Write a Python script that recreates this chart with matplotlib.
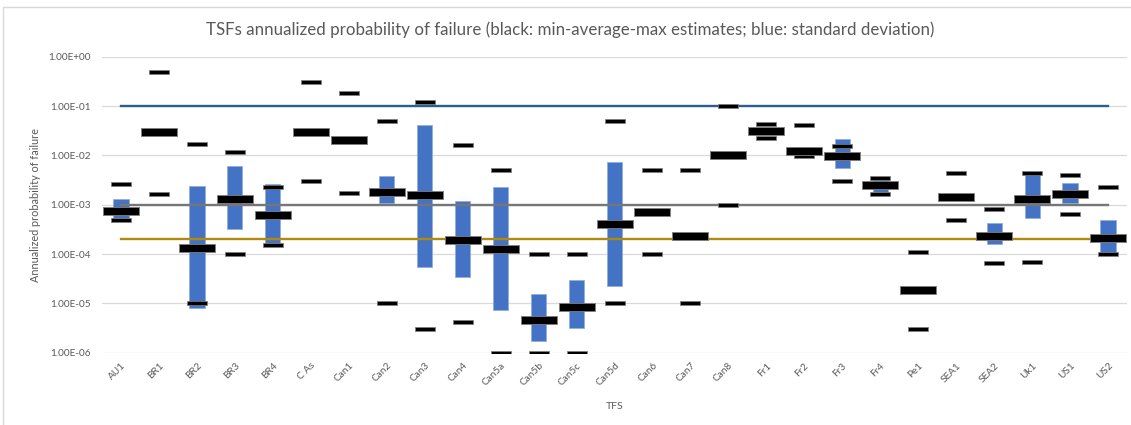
import numpy as np
import matplotlib.pyplot as plt
from matplotlib.patches import Rectangle
from matplotlib.ticker import FixedLocator, FuncFormatter

plt.rcParams['font.family'] = ['Lato', 'DejaVu Sans']

tfs = ['AU1', 'BR1', 'BR2', 'BR3', 'BR4', 'C As', 'Can1', 'Can2', 'Can3', 'Can4',
       'Can5a', 'Can5b', 'Can5c', 'Can5d', 'Can6', 'Can7', 'Can8', 'Fr1', 'Fr2',
       'Fr3', 'Fr4', 'Pe1', 'SEA1', 'SEA2', 'Uk1', 'US1', 'US2']

# min / average / max estimates
p_min = [5.0e-4, 1.64e-3, 1.0e-5, 1.0e-4, 1.5e-4, 3.0e-3, 1.7e-3, 1.0e-5, 3.0e-6, 4.1e-6,
         1.0e-6, 1.0e-6, 1.0e-6, 1.0e-5, 1.0e-4, 1.0e-5, 1.0e-3, 2.2e-2, 9.5e-3,
         3.0e-3, 1.67e-3, 3.0e-6, 4.8e-4, 6.7e-5, 6.9e-5, 6.6e-4, 1.0e-4]
p_avg = [7.6e-4, 3.0e-2, 1.34e-4, 1.3e-3, 6.2e-4, 3.0e-2, 2.05e-2, 1.8e-3, 1.55e-3, 1.92e-4,
         1.26e-4, 4.6e-6, 8.6e-6, 4.06e-4, 7.1e-4, 2.3e-4, 1.0e-2, 3.16e-2, 1.24e-2,
         9.7e-3, 2.54e-3, 1.83e-5, 1.45e-3, 2.35e-4, 1.32e-3, 1.64e-3, 2.11e-4]
p_max = [2.67e-3, 0.5, 1.7e-2, 1.19e-2, 2.3e-3, 0.3, 0.18, 5.0e-2, 0.12, 1.6e-2,
         5.0e-3, 1.0e-4, 1.0e-4, 5.0e-2, 5.0e-3, 5.0e-3, 0.1, 4.3e-2, 4.2e-2,
         1.55e-2, 3.53e-3, 1.11e-4, 4.3e-3, 8.2e-4, 4.45e-3, 4.06e-3, 2.32e-3]

# standard deviation band (lower, upper); None where no band is drawn
sd_low = [5.5e-4, None, 7.9e-6, 3.2e-4, 1.65e-4, None, None, 1.06e-3, 5.4e-5, 3.4e-5,
          7.3e-6, 1.7e-6, 3.2e-6, 2.25e-5, None, None, None, None, 1.05e-2,
          5.6e-3, 1.85e-3, None, None, 1.6e-4, 5.3e-4, 1.1e-3, 1.1e-4]
sd_high = [1.32e-3, None, 2.35e-3, 6.1e-3, 2.6e-3, None, None, 3.8e-3, 4.2e-2, 1.2e-3,
           2.28e-3, 1.55e-5, 2.97e-5, 7.2e-3, None, None, None, None, 1.5e-2,
           2.11e-2, 3.2e-3, None, None, 4.3e-4, 4.3e-3, 2.8e-3, 4.8e-4]

# reference levels
level_high = 1e-1
level_mid = 1e-3
level_low = 2e-4

x = np.arange(len(tfs))

fig = plt.figure(figsize=(11.31, 4.25), dpi=100)
ax = fig.add_axes([102 / 1131, 1 - 352.7 / 425, 1025 / 1131, 296 / 425])

# chart border
fig.patches.append(Rectangle((3 / 1131, -0.01), 1.02, 1.01 - 7 / 425,
                             transform=fig.transFigure, fill=False,
                             edgecolor='#D9D9D9', linewidth=1.0))

# standard deviation bars
for i in range(len(tfs)):
    if sd_low[i] is not None:
        ax.bar(x[i], sd_high[i] - sd_low[i], bottom=sd_low[i], width=0.40,
               color='#4472C4', edgecolor='#8FAADC', linewidth=0.5, zorder=2)

# horizontal reference lines
ax.plot(x, [level_high] * len(x), color='#2B5F91', linewidth=1.7, zorder=3)
ax.plot(x, [level_mid] * len(x), color='#767676', linewidth=1.7, zorder=3)
ax.plot(x, [level_low] * len(x), color='#B08A0C', linewidth=1.7, zorder=3)

# flat rectangle marker, 5:1
dash = [(-1, -0.2), (1, -0.2), (1, 0.2), (-1, 0.2), (-1, -0.2)]
ax.plot(x, p_min, linestyle='none', marker=dash, markersize=14.5,
        markerfacecolor='black', markeredgecolor='#7F7F7F', markeredgewidth=0.5, zorder=4)
ax.plot(x, p_max, linestyle='none', marker=dash, markersize=14.5,
        markerfacecolor='black', markeredgecolor='#7F7F7F', markeredgewidth=0.5, zorder=4)
ax.plot(x, p_avg, linestyle='none', marker=dash, markersize=25.5,
        markerfacecolor='black', markeredgecolor='#7F7F7F', markeredgewidth=0.6, zorder=5)

ax.set_yscale('log')
ax.set_ylim(1e-6, 1)
ax.set_xlim(-0.5, len(tfs) - 0.5)
ax.yaxis.set_major_locator(FixedLocator([10.0 ** k for k in range(-6, 1)]))
ax.yaxis.set_minor_locator(FixedLocator([]))
ax.yaxis.set_major_formatter(FuncFormatter(lambda v, p: '%.2E' % v))
ax.grid(axis='y', color='#D9D9D9', linewidth=0.9, zorder=0)
ax.set_axisbelow(True)
for s in ax.spines.values():
    s.set_visible(False)

ax.set_xticks(x)
ax.set_xticklabels(tfs, rotation=45, ha='right', va='top', rotation_mode='anchor')
ax.tick_params(axis='both', length=0, colors='#595959', labelsize=7.2)
ax.tick_params(axis='x', pad=6)
ax.tick_params(axis='y', pad=8)

ax.set_xlabel('TFS', color='#595959', fontsize=7.5, labelpad=10)
ax.set_ylabel('Annualized probability of failure', color='#595959', fontsize=7.8, labelpad=5)

fig.text(0.504, 1 - 30 / 425, 'TSFs annualized probability of failure (black: min-average-max estimates; blue: standard deviation)',
         ha='center', va='center', color='#595959', fontsize=12.2)

fig.savefig('out.png', dpi=100)
